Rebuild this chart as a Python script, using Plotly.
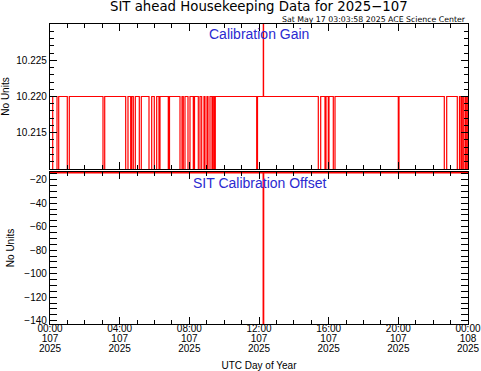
import plotly.graph_objects as go

# ---- data (hours of UTC day 107) ----
gain_drop_start = [0.000, 0.402, 0.993, 3.043, 4.346, 4.633, 4.783, 5.127, 5.684, 5.988,
                   6.258, 6.792, 7.464, 7.653, 7.923, 8.228, 8.515, 8.710, 8.899, 9.072,
                   9.301, 9.433, 11.868, 15.405, 15.789, 15.979, 16.266, 19.998, 22.639,
                   23.385, 23.598, 23.730, 23.885]
gain_drop_end = [0.155, 0.500, 1.108, 3.141, 4.478, 4.691, 4.898, 5.242, 5.839, 6.126,
                 6.316, 6.861, 7.579, 7.751, 8.038, 8.297, 8.612, 8.842, 9.014, 9.186,
                 9.359, 9.491, 11.914, 15.542, 15.847, 16.019, 16.364, 20.038, 22.777,
                 23.511, 23.655, 23.827, 23.959]
gain_base = 10.220
gain_low = 10.200
gain_spike = 10.240
spike_start = 12.247
spike_end = 12.262
offset_base = -14.0
offset_spike = -150.0

tick_hours = [0, 4, 8, 12, 16, 20, 24]
time_labels = ["00:00", "04:00", "08:00", "12:00", "16:00", "20:00", "00:00"]
doy_labels = ["107", "107", "107", "107", "107", "107", "108"]
year_labels = ["2025"] * 7
gain_ticks = [10.215, 10.220, 10.225]
offset_ticks = [-140, -120, -100, -80, -60, -40, -20]

# ---- build step series ----
events = []
for s, e in zip(gain_drop_start, gain_drop_end):
    events.append((s, gain_low))
    events.append((e, gain_base))
events.append((spike_start, gain_spike))
events.append((spike_end, gain_base))
events.sort()
if events[0][0] > 0:
    events.insert(0, (0.0, gain_base))
events.append((24.0, gain_base))
gain_t = [e[0] for e in events]
gain_v = [e[1] for e in events]

offset_t = [0.0, spike_start, spike_end, 24.0]
offset_v = [offset_base, offset_spike, offset_base, offset_base]

RED = "#ff0000"
BLUE = "#2a2ad0"
FONT = "Liberation Sans, Arial, sans-serif"
WIDE = "DejaVu Sans, sans-serif"

fig = go.Figure()
fig.add_trace(go.Scatter(x=gain_t, y=gain_v, mode="lines", line=dict(color=RED, width=1.2, shape="hv"),
                         xaxis="x", yaxis="y", showlegend=False, hoverinfo="skip"))
fig.add_trace(go.Scatter(x=offset_t, y=offset_v, mode="lines", line=dict(color=RED, width=1.5, shape="hv"),
                         xaxis="x2", yaxis="y2", showlegend=False, hoverinfo="skip"))
# empty traces so the extra label rows (day of year, year) are drawn
fig.add_trace(go.Scatter(x=[None], y=[None], xaxis="x3", yaxis="y2", showlegend=False, hoverinfo="skip"))
fig.add_trace(go.Scatter(x=[None], y=[None], xaxis="x4", yaxis="y2", showlegend=False, hoverinfo="skip"))

axis_common = dict(showline=True, linecolor="black", linewidth=1.2, mirror="allticks",
                   ticks="inside", tickcolor="black", showgrid=False, zeroline=False,
                   automargin=False)
label_axis = dict(overlaying="x2", anchor="y2", side="bottom", range=[0, 24], tickvals=tick_hours,
                  ticks="", showline=False, showgrid=False, zeroline=False, automargin=False)

fig.update_layout(
    template="none",
    width=481, height=371,
    margin=dict(l=50, r=13, t=24, b=47),
    paper_bgcolor="white", plot_bgcolor="white",
    font=dict(family=FONT, size=10, color="black"),
    xaxis=dict(domain=[0, 1], anchor="y", range=[0, 24], tickvals=tick_hours,
               showticklabels=False, ticklen=7,
               minor=dict(dtick=1, tick0=0, ticklen=3.5, ticks="inside", tickcolor="black"),
               **axis_common),
    yaxis=dict(domain=[0.5167, 1.0], anchor="x", range=[10.210, 10.230],
               tickvals=gain_ticks, tickformat=".3f", ticklen=7,
               minor=dict(dtick=0.001, tick0=10.21, ticklen=3.5, ticks="inside", tickcolor="black"),
               title=dict(text="No Units", font=dict(size=10), standoff=14),
               **axis_common),
    xaxis2=dict(domain=[0, 1], anchor="y2", range=[0, 24], tickvals=tick_hours,
                ticktext=time_labels, ticklen=7, ticklabelstandoff=-5,
                minor=dict(dtick=1, tick0=0, ticklen=3.5, ticks="inside", tickcolor="black"),
                **axis_common),
    xaxis3=dict(ticktext=doy_labels, ticklabelstandoff=7, **label_axis),
    xaxis4=dict(ticktext=year_labels, ticklabelstandoff=17,
                title=dict(text="UTC Day of Year", font=dict(size=10), standoff=14), **label_axis),
    yaxis2=dict(domain=[0, 0.5067], anchor="x2", range=[-142.8, -13.4],
                tickvals=offset_ticks, ticklen=7,
                minor=dict(dtick=5, tick0=0, ticklen=3.5, ticks="inside", tickcolor="black"),
                title=dict(text="No Units", font=dict(size=10), standoff=7),
                **axis_common),
    annotations=[
        dict(text="SIT ahead Housekeeping Data for 2025\u2212107", x=0.5, y=1, xref="paper", yref="paper",
             xanchor="center", yanchor="bottom", yshift=8, showarrow=False,
             font=dict(size=13.3, family=WIDE)),
        dict(text="Sat May 17 03:03:58 2025 ACE Science Center", x=1, y=1, xref="paper", yref="paper",
             xanchor="right", yanchor="bottom", yshift=-2, showarrow=False,
             font=dict(size=7.8, family=WIDE)),
        dict(text="Calibration Gain", x=0.5, y=1, xref="paper", yref="paper",
             xanchor="center", yanchor="top", yshift=0, showarrow=False,
             font=dict(size=14, family=FONT, color=BLUE)),
        dict(text="SIT Calibration Offset", x=0.5, y=0.5067, xref="paper", yref="paper",
             xanchor="center", yanchor="top", yshift=-1, showarrow=False,
             font=dict(size=14, family=FONT, color=BLUE)),
    ],
)

fig.write_html("out.html", config={"displayModeBar": False},
               post_script="document.body.style.margin='0';")
